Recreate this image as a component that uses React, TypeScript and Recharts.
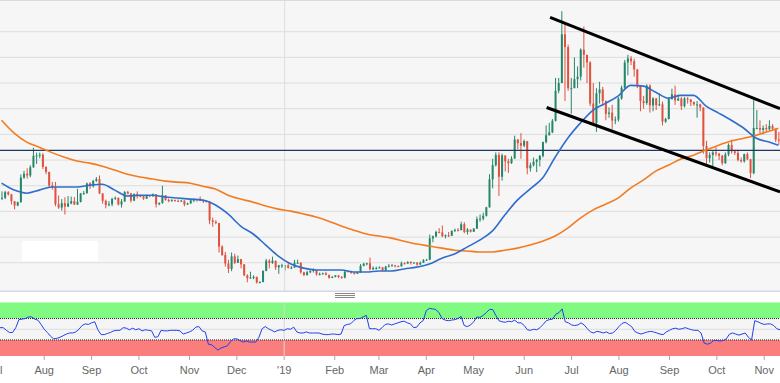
import React from "react";
import {
  Bar,
  CartesianGrid,
  ComposedChart,
  Line,
  LineChart,
  ReferenceArea,
  ReferenceLine,
  XAxis,
  YAxis
} from "recharts";

// two-day candles, [open, high, low, close]
const jul18 = [
  [6500, 6780, 6440, 6530], [6530, 6800, 6480, 6750], [6750, 6790, 6620, 6660], [6660, 6680, 6270, 6400],
  [6400, 6400, 6080, 6230], [6230, 6380, 6200, 6360], [6360, 7440, 6340, 7320], [7320, 7580, 7270, 7470],
  [7470, 7680, 7280, 7400], [7400, 7800, 7330, 7720], [7720, 8480, 7700, 8170], [8170, 8290, 7850, 8180],
  [8180, 8290, 8070, 8210], [8210, 8270, 7650, 7730]
];
const aug18 = [
  [7730, 7760, 7450, 7540], [7540, 7540, 6950, 7010], [7010, 7150, 6850, 6940], [6940, 7150, 6200, 6280],
  [6280, 6620, 6100, 6150], [6150, 6480, 6030, 6320], [6320, 6550, 5880, 6190], [6190, 6600, 6170, 6310],
  [6310, 6580, 6280, 6400], [6400, 6560, 6250, 6270], [6270, 6880, 6250, 6370], [6370, 6720, 6350, 6700],
  [6700, 6800, 6650, 6710], [6710, 7120, 6690, 7090], [7090, 7140, 6880, 6980]
];
const sep18 = [
  [6980, 7230, 6930, 7190], [7190, 7340, 7150, 7260], [7260, 7400, 6680, 6700], [6700, 6700, 6300, 6410],
  [6410, 6460, 6120, 6250], [6250, 6400, 6200, 6280], [6280, 6530, 6200, 6490], [6490, 6580, 6450, 6530],
  [6530, 6540, 6230, 6270], [6270, 6480, 6150, 6390], [6390, 6790, 6370, 6760], [6760, 6800, 6660, 6700],
  [6700, 6720, 6350, 6420], [6420, 6700, 6400, 6680], [6680, 6780, 6500, 6600]
];
const oct18 = [
  [6600, 6650, 6550, 6590], [6590, 6600, 6450, 6500], [6500, 6650, 6480, 6630], [6630, 6640, 6550, 6590],
  [6590, 6700, 6570, 6670], [6670, 6670, 6150, 6280], [6280, 6350, 6240, 6330], [6330, 7000, 6300, 6630],
  [6630, 6630, 6420, 6450], [6450, 6500, 6360, 6400], [6400, 6480, 6380, 6440], [6440, 6460, 6380, 6410],
  [6410, 6470, 6380, 6400], [6400, 6450, 6380, 6420], [6420, 6430, 6200, 6270], [6270, 6340, 6250, 6310]
];
const nov18 = [
  [6310, 6450, 6300, 6430], [6430, 6510, 6360, 6480], [6480, 6480, 6380, 6450], [6450, 6580, 6400, 6430],
  [6430, 6450, 6330, 6410], [6410, 6430, 6350, 6380], [6380, 6400, 5500, 5650], [5650, 5760, 5400, 5590],
  [5590, 5660, 5500, 5550], [5550, 5550, 4400, 4630], [4630, 4680, 4270, 4300], [4300, 4420, 3850, 3970],
  [3970, 4120, 3600, 3760], [3760, 4400, 3670, 4250], [4250, 4350, 3950, 4000]
];
const dec18 = [
  [4000, 4280, 3990, 4140], [4140, 4150, 3780, 3940], [3940, 3950, 3480, 3510], [3510, 3550, 3240, 3400],
  [3400, 3650, 3390, 3420], [3420, 3510, 3360, 3450], [3450, 3460, 3190, 3230], [3230, 3280, 3200, 3250],
  [3250, 3710, 3240, 3680], [3680, 4150, 3670, 4080], [4080, 4140, 3780, 3990], [3990, 4240, 3960, 4080],
  [4080, 4080, 3720, 3820], [3820, 3920, 3570, 3900], [3900, 3960, 3800, 3900]
];
const jan19 = [
  [3900, 3900, 3700, 3900], [3900, 3990, 3770, 3800], [3800, 3870, 3750, 3810], [3810, 4110, 3800, 4000],
  [4000, 4120, 3960, 4000], [4000, 4020, 3570, 3630], [3630, 3650, 3480, 3520], [3520, 3690, 3500, 3630],
  [3630, 3710, 3590, 3680], [3680, 3780, 3620, 3720], [3720, 3720, 3500, 3550], [3550, 3620, 3510, 3560],
  [3560, 3620, 3540, 3590], [3590, 3650, 3510, 3530], [3530, 3530, 3380, 3410], [3410, 3480, 3400, 3450]
];
const feb19 = [
  [3450, 3520, 3430, 3510], [3510, 3510, 3400, 3450], [3450, 3480, 3380, 3420], [3420, 3720, 3390, 3650],
  [3650, 3690, 3620, 3680], [3680, 3690, 3570, 3610], [3610, 3640, 3540, 3570], [3570, 3650, 3560, 3620],
  [3620, 3950, 3610, 3880], [3880, 4000, 3860, 3960], [3960, 4000, 3900, 3980], [3980, 4200, 3700, 3750],
  [3750, 3860, 3720, 3800], [3800, 3850, 3730, 3800]
];
const mar19 = [
  [3800, 3860, 3780, 3820], [3820, 3830, 3680, 3700], [3700, 3880, 3690, 3850], [3850, 3950, 3820, 3880],
  [3880, 3950, 3860, 3900], [3900, 3920, 3820, 3870], [3870, 3900, 3830, 3860], [3860, 4050, 3850, 3980],
  [3980, 4020, 3940, 3970], [3970, 4060, 3960, 4030], [4030, 4060, 3930, 3990], [3990, 4020, 3970, 4010],
  [4010, 4020, 3880, 3930], [3930, 4050, 3920, 4000], [4000, 4140, 3990, 4100]
];
const apr19 = [
  [4100, 4150, 4080, 4120], [4120, 5100, 4100, 4950], [4950, 5060, 4800, 5030], [5030, 5250, 4980, 5200],
  [5200, 5350, 5150, 5180], [5180, 5450, 5000, 5040], [5040, 5100, 4950, 5070], [5070, 5200, 5000, 5050],
  [5050, 5260, 5040, 5240], [5240, 5330, 5200, 5280], [5280, 5350, 5220, 5270], [5270, 5600, 5260, 5500],
  [5500, 5580, 5150, 5200], [5200, 5350, 5100, 5290], [5290, 5300, 5180, 5210]
];
const may19 = [
  [5210, 5350, 5200, 5330], [5330, 5800, 5320, 5700], [5700, 5880, 5600, 5720], [5720, 5950, 5650, 5830],
  [5830, 6180, 5800, 6160], [6160, 7450, 6150, 7250], [7250, 8050, 6900, 7800], [7800, 8300, 7750, 8200],
  [8200, 8300, 6600, 7350], [7350, 8250, 7200, 8180], [8180, 8180, 7560, 7950], [7950, 8050, 7500, 7880],
  [7880, 8150, 7850, 8060], [8060, 8950, 8050, 8800], [8800, 8820, 8420, 8660], [8660, 9050, 8050, 8560]
];
const jun19 = [
  [8560, 8800, 8500, 8740], [8740, 8740, 7450, 7680], [7680, 7900, 7550, 7800], [7800, 8100, 7750, 7930],
  [7930, 8050, 7530, 8010], [8010, 8200, 7750, 8160], [8160, 8720, 8100, 8700], [8700, 9350, 8650, 8970],
  [8970, 9450, 8950, 9080], [9080, 9600, 9050, 9530], [9530, 11200, 9500, 10700], [10700, 11200, 10600, 11000],
  [11000, 13800, 11000, 12900], [12900, 13300, 10300, 12400], [12400, 12500, 10700, 10800]
];
const jul19 = [
  [10800, 11200, 9800, 10800], [10800, 12000, 10800, 11150], [11150, 11650, 10800, 11250], [11250, 12350, 11100, 12300],
  [12300, 13200, 11600, 12100], [12100, 12100, 11000, 11800], [11800, 11850, 10100, 10200], [10200, 11000, 9400, 9450],
  [9450, 10800, 9100, 10600], [10600, 11050, 10200, 10750], [10750, 10850, 10100, 10300], [10300, 10320, 9550, 9800],
  [9800, 10050, 9650, 9850], [9850, 10150, 9200, 9540], [9540, 9700, 9400, 9580]
];
const aug19 = [
  [9580, 10450, 9500, 10400], [10400, 10900, 10350, 10820], [10820, 11900, 10780, 11800], [11800, 12100, 11300, 11960],
  [11960, 12050, 11700, 11850], [11850, 11950, 11250, 11530], [11530, 11550, 10800, 10880], [10880, 10880, 9900, 10300],
  [10300, 10500, 10000, 10220], [10220, 10950, 10150, 10900], [10900, 10950, 9850, 10130], [10130, 10450, 9900, 10400],
  [10400, 10420, 9950, 10140], [10140, 10600, 10100, 10170], [10170, 10280, 9350, 9500], [9500, 9650, 9450, 9600]
];
const sep19 = [
  [9600, 10450, 9580, 10380], [10380, 10780, 10350, 10560], [10560, 10900, 10150, 10320], [10320, 10550, 10300, 10400],
  [10400, 10450, 9950, 10100], [10100, 10450, 10050, 10400], [10400, 10450, 10200, 10360], [10360, 10380, 10100, 10260],
  [10260, 10280, 10120, 10170], [10170, 10300, 9650, 10170], [10170, 10200, 9900, 10050], [10050, 10050, 8250, 8550],
  [8550, 8750, 7800, 8070], [8070, 8300, 7900, 8200], [8200, 8350, 7750, 8300]
];
const oct19 = [
  [8300, 8500, 8150, 8250], [8250, 8280, 8000, 8170], [8170, 8200, 7800, 7880], [7880, 8300, 7850, 8220],
  [8220, 8650, 8150, 8590], [8590, 8800, 8250, 8340], [8340, 8400, 8200, 8280], [8280, 8400, 7950, 8000],
  [8000, 8100, 7900, 7950], [7950, 8250, 7900, 8230], [8230, 8300, 8000, 8030], [8030, 8050, 7300, 7490],
  [7490, 10350, 7450, 9250], [9250, 9950, 9200, 9250], [9250, 9550, 9050, 9180]
];
const nov19 = [
  [9180, 9350, 9000, 9250], [9250, 9400, 9100, 9200], [9200, 9550, 9150, 9330], [9330, 9400, 9150, 9220],
  [9220, 9250, 8700, 8800], [8800, 9100, 8600, 8760]
];

const months = [jul18, aug18, sep18, oct18, nov18, dec18, jan19, feb19, mar19, apr19, may19, jun19, jul19, aug19, sep19, oct19, nov19];
const monthLabels = ["Aug", "Sep", "Oct", "Nov", "Dec", "'19", "Feb", "Mar", "Apr", "May", "Jun", "Jul", "Aug", "Sep", "Oct", "Nov"];

// moving averages, one point every 4 candles (last one on the final candle)
const ma50 = [
  7100, 6830, 6710, 6830, 6950, 6950, 6950, 7020, 7060, 6830, 6600, 6630, 6630, 6560, 6520, 6480, 6440, 6250, 5900, 5430,
  5120, 4690, 4260, 3950, 3790, 3720, 3720, 3720, 3640, 3640, 3680, 3680, 3760, 3830, 3950, 4180, 4340, 4610, 4880, 5230,
  5860, 6440, 6870, 7300, 8110, 8850, 9440, 9940, 10210, 10490, 10910, 10880, 10640, 10410, 10520, 10520, 10100, 9830, 9550, 9240,
  8850, 8700, 8580
];
const ma200 = [
  9550, 9050, 8700, 8500, 8290, 8110, 7960, 7880, 7760, 7610, 7450, 7340, 7260, 7180, 7140, 7100, 6980, 6870, 6630, 6480,
  6360, 6210, 6090, 6010, 5900, 5780, 5620, 5430, 5270, 5120, 5040, 4960, 4840, 4730, 4650, 4570, 4490, 4460, 4420, 4420,
  4490, 4570, 4690, 4840, 5040, 5350, 5740, 6050, 6280, 6520, 6910, 7220, 7570, 7800, 8040, 8190, 8390, 8580, 8740, 8850,
  8970, 9120, 9240
];

const rsi2018 = [
  53, 53, 48, 44, 44, 53, 68, 69, 70, 73, 73, 69, 67, 59, 50, 44, 37, 32, 33, 35,
  38, 41, 43, 43, 45, 50, 57, 60, 59, 62, 64, 49, 40, 40, 42, 44, 47, 48, 48, 53,
  52, 49, 52, 49, 51, 47, 49, 48, 47, 35, 36, 48, 47, 47, 48, 48, 48, 47, 41, 43,
  45, 48, 54, 55, 47, 45, 22, 21, 16, 11, 15, 17, 19, 27, 32, 32, 29, 26, 28, 26,
  26, 26, 35, 51, 55, 51, 48, 45, 48, 49
];
const rsi2019 = [
  48, 51, 50, 54, 45, 43, 43, 45, 43, 43, 43, 43, 41, 40, 40, 41, 41, 40, 41, 57,
  59, 60, 66, 70, 70, 73, 76, 51, 51, 51, 48, 53, 59, 60, 58, 60, 62, 64, 65, 62,
  60, 53, 54, 62, 66, 85, 89, 88, 87, 81, 70, 67, 66, 67, 68, 70, 74, 57, 55, 58,
  64, 73, 72, 76, 81, 87, 87, 76, 66, 64, 63, 65, 64, 67, 62, 62, 57, 49, 48, 50,
  49, 53, 59, 66, 68, 69, 78, 81, 88, 64, 62, 58, 57, 58, 62, 58, 51, 45, 43, 46,
  45, 43, 45, 42, 43, 48, 55, 61, 63, 59, 55, 46, 43, 41, 43, 45, 46, 45, 43, 41,
  40, 45, 48, 51, 52, 50, 51, 53, 51, 49, 48, 48, 43, 24, 22, 24, 29, 29, 28, 29,
  32, 41, 43, 41, 39, 41, 43, 35, 30, 66, 64, 61, 59, 60, 60, 57, 51, 49
];

const gridPrices = [3000, 4000, 5000, 6000, 7000, 8000, 9000, 10000, 11000, 12000, 13000];
const resistance = 8374;
// falling channel, [candle index, price]
const channelTop = [[174.4, 13560], [247.5, 10000]];
const channelBottom = [[173.3, 10047], [247.5, 6763]];

const GREEN = "#25876a";
const RED = "#e0523f";
const PRICE_DOMAIN: [number, number] = [2900, 14235];

const candles = months.flat();
const rsiAll = [...rsi2018, ...rsi2019];
const last = candles.length - 1;

const data = candles.map(([open, high, low, close], k) => ({ k, open, high, low, close, rsi: rsiAll[k] }));
const maRows = ma50.map((v, j) => ({ k: Math.min(j * 4, last), ma50: v, ma200: ma200[j] }));

const monthTicks: number[] = [];
const tickLabel: Record<number, string> = {};
let start = 0;
months.forEach((m, i) => {
  if (i > 0) {
    monthTicks.push(start);
    tickLabel[start] = monthLabels[i - 1];
  }
  start += m.length;
});

const Candle = (props: any) => {
  const { x, y, width, height, payload } = props;
  if (!payload) return null;
  const { open, high, low, close } = payload;
  const top = Math.min(y, y + height);
  const h = Math.abs(height);
  const py = (v: number) => top + ((high - v) / (high - low || 1)) * h;
  const color = close >= open ? GREEN : RED;
  const bodyTop = py(Math.max(open, close));
  const bodyH = Math.max(1, py(Math.min(open, close)) - bodyTop);
  const cx = x + width / 2;
  return (
    <g>
      <line x1={cx} x2={cx} y1={top} y2={top + h} stroke={color} strokeWidth={1} />
      <rect x={x} y={bodyTop} width={width} height={bodyH} fill={color} />
    </g>
  );
};

const font = '"Liberation Sans", Arial, sans-serif';

export default function App() {
  return (
    <div
      style={{
        position: "absolute",
        left: 0,
        top: 0,
        width: 780,
        height: 383,
        background: "#fff",
        overflow: "hidden",
        fontFamily: font
      }}
    >
      <div
        style={{
          position: "absolute",
          left: 0,
          top: 0,
          width: 780,
          height: 292,
          boxSizing: "border-box",
          background: "#f6f6f6",
          borderTop: "1px solid #d4d4e4",
          borderBottom: "1px solid #d4d4e4"
        }}
      />
      <div style={{ position: "absolute", left: 0, top: 0 }}>
        <ComposedChart width={780} height={291} data={data} margin={{ top: 0, right: 0, bottom: 0, left: 0 }}>
          <XAxis dataKey="k" hide />
          <YAxis hide domain={PRICE_DOMAIN} ticks={gridPrices} allowDataOverflow />
          <CartesianGrid vertical={false} stroke="#dddddd" />
          <ReferenceLine x={90} stroke="#dddddd" />
          <ReferenceLine y={resistance} stroke="#1f3864" strokeWidth={1.3} />
          <Bar
            dataKey={(d: any) => [d.low, d.high]}
            barSize={2}
            shape={(p: any) => <Candle {...p} />}
            isAnimationActive={false}
          />
        </ComposedChart>
      </div>
      <div style={{ position: "absolute", left: 0, top: 0 }}>
        <ComposedChart width={780} height={291} data={maRows} margin={{ top: 0, right: 0, bottom: 0, left: 0 }}>
          <XAxis dataKey="k" type="number" domain={[-0.5, last + 0.5]} hide />
          <YAxis hide domain={PRICE_DOMAIN} allowDataOverflow />
          <Line type="monotone" dataKey="ma200" stroke="#f47b20" strokeWidth={1.6} dot={false} activeDot={false} isAnimationActive={false} />
          <Line type="monotone" dataKey="ma50" stroke="#2f6dcc" strokeWidth={1.6} dot={false} activeDot={false} isAnimationActive={false} />
          <ReferenceLine
            segment={channelTop.map(([x, y]) => ({ x, y }))}
            stroke="#000"
            strokeWidth={3}
            ifOverflow="visible"
          />
          <ReferenceLine
            segment={channelBottom.map(([x, y]) => ({ x, y }))}
            stroke="#000"
            strokeWidth={3}
            ifOverflow="visible"
          />
        </ComposedChart>
      </div>
      <div style={{ position: "absolute", left: 22, top: 241, width: 76, height: 20, background: "#fff" }} />
      <svg style={{ position: "absolute", left: 335, top: 293 }} width={20} height={6}>
        <line x1={0} x2={20} y1={0.5} y2={0.5} stroke="#888" />
        <line x1={0} x2={20} y1={2.5} y2={2.5} stroke="#888" />
        <line x1={0} x2={20} y1={4.5} y2={4.5} stroke="#888" />
      </svg>
      <div style={{ position: "absolute", left: 0, top: 300 }}>
        <LineChart width={780} height={83} data={data} margin={{ top: 2.5, right: 0, bottom: 0, left: 0 }}>
          <XAxis
            dataKey="k"
            ticks={monthTicks}
            interval={0}
            tickFormatter={(v: number) => tickLabel[v] ?? ""}
            tickSize={4}
            tickMargin={6}
            axisLine={false}
            tickLine={{ stroke: "#aaa" }}
            tick={{ fontSize: 11, fill: "#666", fontFamily: font }}
            height={27}
          />
          <YAxis hide domain={[0, 100]} />
          <ReferenceArea y1={70} y2={100} fill="#80fa80" fillOpacity={1} stroke="none" />
          <ReferenceArea y1={30} y2={70} fill="#f5f5f5" fillOpacity={1} stroke="none" />
          <ReferenceArea y1={0} y2={30} fill="#fa7e7e" fillOpacity={1} stroke="none" />
          <ReferenceLine y={50} stroke="#dddddd" />
          <ReferenceLine x={90} stroke="#d8d8d8" />
          <ReferenceLine y={70} stroke="#222" strokeDasharray="1 1" />
          <ReferenceLine y={30} stroke="#222" strokeDasharray="1 1" />
          <Line type="linear" dataKey="rsi" stroke="#2140f0" strokeWidth={1} dot={false} activeDot={false} isAnimationActive={false} />
        </LineChart>
      </div>
      <svg style={{ position: "absolute", left: 0, top: 0, pointerEvents: "none" }} width={780} height={383}>
        <text x={-4.7} y={373.8} textAnchor="middle" fontSize={11} fill="#666" fontFamily={font}>
          Jul
        </text>
      </svg>
    </div>
  );
}
